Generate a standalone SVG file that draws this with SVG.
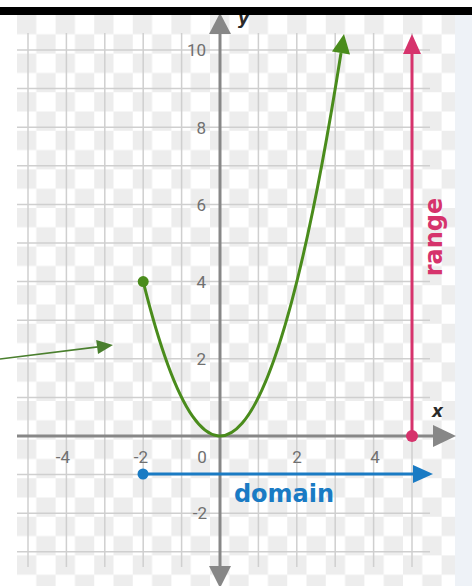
<svg xmlns="http://www.w3.org/2000/svg" width="472" height="586" viewBox="0 0 472 586">
<defs>
<pattern id="checker" x="17" y="15" width="38.6" height="38.6" patternUnits="userSpaceOnUse">
<rect width="38.6" height="38.6" fill="#ffffff"/>
<rect width="19.3" height="19.3" fill="#ededed"/>
<rect x="19.3" y="19.3" width="19.3" height="19.3" fill="#ededed"/>
</pattern>
<style>
.grid{stroke:#cfcfcf;stroke-width:1.5;fill:none}
.axis{stroke:#878787;stroke-width:3;fill:none}
.axhead{fill:#878787}
.tick{font-family:Roboto,"Liberation Sans",sans-serif;font-size:17px;fill:#707070}
.lbl{font-family:"DejaVu Sans",sans-serif;font-weight:bold;font-size:24px}
.axlbl{font-family:"DejaVu Sans",sans-serif;font-weight:bold;font-style:italic;font-size:17px;fill:#2a2a2a}
</style>
</defs>
<rect width="472" height="586" fill="#ffffff"/>
<rect x="17" y="15" width="438" height="571" fill="url(#checker)"/>
<rect x="455" y="15" width="17" height="571" fill="#eef2f7"/>
<g id="grid" class="grid">
<path d="M28 33V567M66.4 33V567M104.8 33V567M143.2 33V567M181.6 33V567M258.4 33V567M296.8 33V567M335.2 33V567M373.6 33V567M412 33V567"/>
<path d="M17 50H430M17 88.6H430M17 127.2H430M17 165.8H430M17 204.4H430M17 243H430M17 281.6H430M17 320.2H430M17 358.8H430M17 397.4H430M17 474.6H430M17 513.2H430M17 551.8H430"/>
</g>
<g id="axes">
<line class="axis" x1="17" y1="436" x2="435" y2="436"/>
<polygon class="axhead" points="456,436 433,425 433,447"/>
<line class="axis" x1="220" y1="30" x2="220" y2="570"/>
<polygon class="axhead" points="220,13 209,34 231,34"/>
<polygon class="axhead" points="220,588 209,566 231,566"/>
<text class="axlbl" x="432" y="417">x</text>
<text class="axlbl" x="238" y="24">y</text>
</g>
<g id="ticks" class="tick">
<text x="206" y="56" text-anchor="end">10</text>
<text x="206" y="134" text-anchor="end">8</text>
<text x="206" y="211" text-anchor="end">6</text>
<text x="206" y="288" text-anchor="end">4</text>
<text x="206" y="365" text-anchor="end">2</text>
<text x="207" y="519" text-anchor="end">-2</text>
<text x="63" y="463" text-anchor="middle">-4</text>
<text x="141" y="463" text-anchor="middle">-2</text>
<text x="202" y="463" text-anchor="middle">0</text>
<text x="297" y="463" text-anchor="middle">2</text>
<text x="375" y="463" text-anchor="middle">4</text>
</g>
<g id="curve">
<path d="M143.2 281.6Q242.1 679.2 341 53" fill="none" stroke="#4a8c1c" stroke-width="3"/>
<polygon points="344,34 350,54.5 332,51.5" fill="#4a8c1c"/>
<circle cx="143.2" cy="281.6" r="5.5" fill="#4a8c1c"/>
</g>
<g id="range">
<line x1="412" y1="436" x2="412" y2="50" stroke="#d6336c" stroke-width="3"/>
<polygon points="412,34 403,54 421,54" fill="#d6336c"/>
<circle cx="412" cy="436" r="6" fill="#d6336c"/>
<text class="lbl" fill="#d6336c" text-anchor="middle" transform="translate(442,237) rotate(-90)">range</text>
</g>
<g id="domain">
<line x1="143" y1="474" x2="416" y2="474" stroke="#1a7bc4" stroke-width="3"/>
<polygon points="433,474 413,465 413,483" fill="#1a7bc4"/>
<circle cx="143" cy="474" r="5.5" fill="#1a7bc4"/>
<text class="lbl" fill="#1a7bc4" text-anchor="middle" x="284" y="502">domain</text>
</g>
<g id="connectors">
<line x1="0" y1="359" x2="100" y2="346.6" stroke="#4a7f2e" stroke-width="1.6"/>
<polygon points="113,345 98,354 96.2,340" fill="#4a7f2e"/>
</g>
<rect x="0" y="7" width="472" height="8" fill="#000000"/>
</svg>
